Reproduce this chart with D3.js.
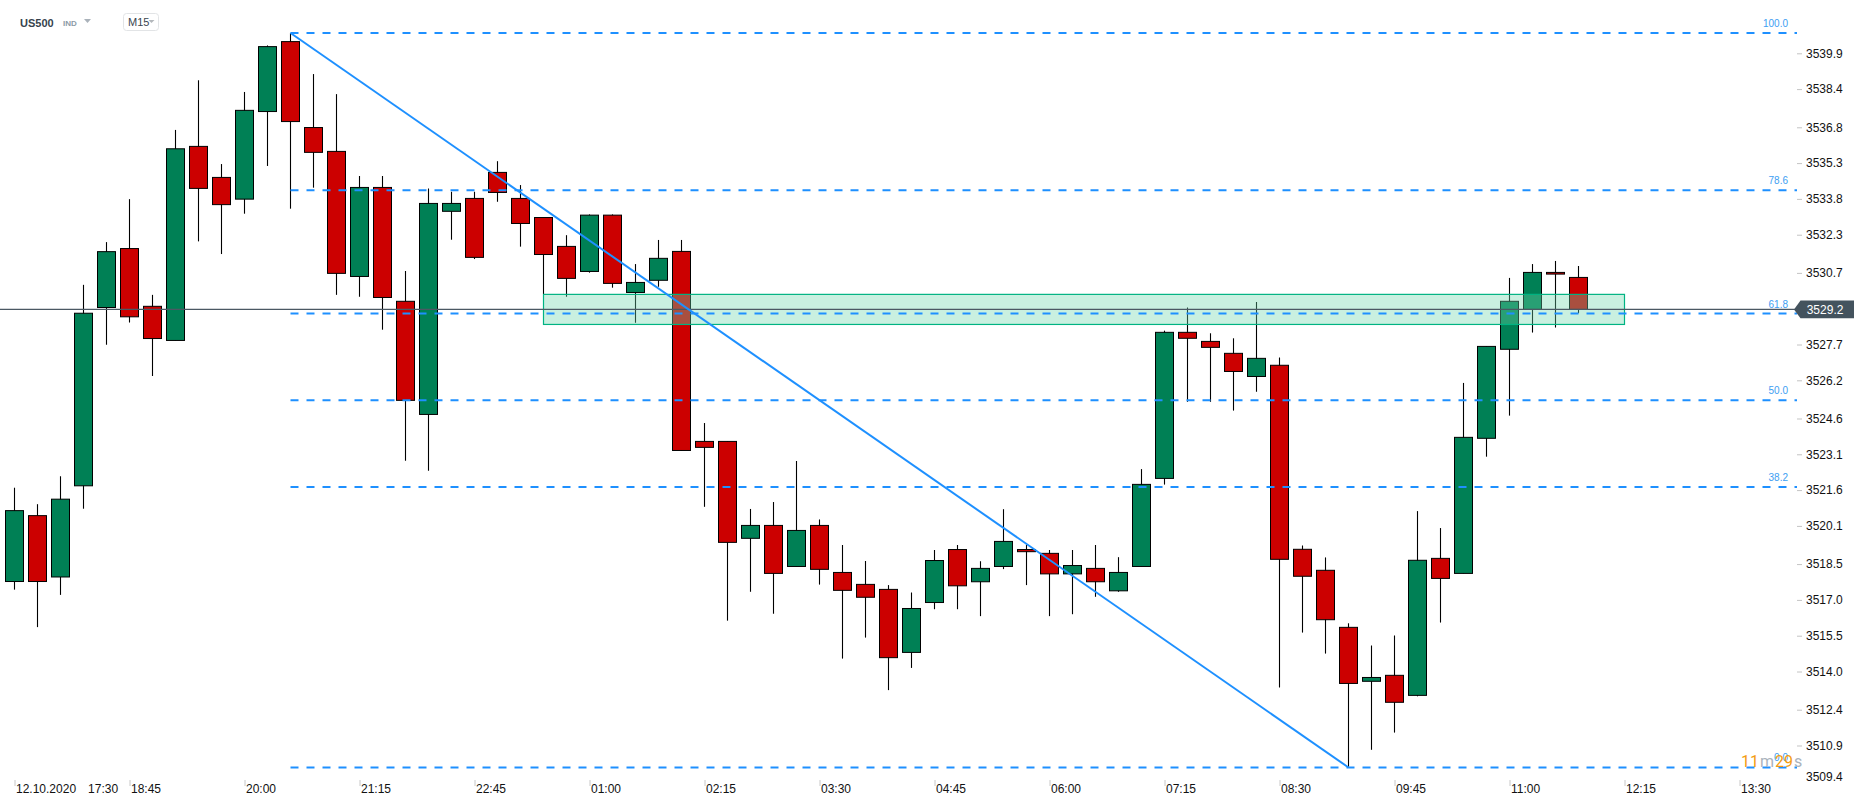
<!DOCTYPE html>
<html><head><meta charset="utf-8">
<script src="https://cdn.jsdelivr.net/npm/d3@7"></script>
<style>
html,body{margin:0;padding:0;background:#fff;}
svg{display:block;font-family:"Liberation Sans",Arial,sans-serif;}
</style></head><body>
<svg id="chart" width="1866" height="806"></svg>
<script>
// ---- data (US500, M15) ----
const opens  = [3517.77,3520.53,3517.96,3521.78,3529.25,3531.72,3529.30,3527.87,3536.00,3534.70,
                3533.79,3537.46,3540.39,3536.79,3535.79,3530.55,3534.28,3529.51,3524.77,3533.28,
                3533.82,3534.91,3533.82,3533.02,3531.81,3530.76,3533.12,3529.88,3530.39,3531.60,
                3523.64,3523.64,3519.58,3520.12,3518.40,3520.12,3518.15,3517.65,3517.44,3514.80,
                3516.89,3519.11,3517.76,3518.40,3519.11,3518.95,3518.09,3518.32,3517.38,3518.40,
                3522.09,3528.21,3527.83,3527.33,3526.36,3526.83,3519.12,3518.24,3515.85,3513.59,
                3513.84,3513.00,3518.74,3518.11,3523.77,3527.50,3529.17,3530.72,3530.51];
const highs  = [3521.70,3521.01,3522.18,3530.20,3531.99,3533.79,3529.78,3536.69,3538.77,3535.26,
                3538.28,3540.23,3540.75,3539.03,3538.19,3534.76,3534.76,3530.78,3534.24,3534.10,
                3534.10,3535.38,3534.38,3533.02,3532.28,3533.15,3533.15,3531.07,3532.08,3532.08,
                3524.41,3523.64,3520.81,3521.10,3522.82,3520.37,3519.30,3518.63,3517.62,3517.31,
                3519.09,3519.30,3518.62,3520.80,3519.30,3519.09,3519.09,3519.30,3518.79,3522.48,
                3528.28,3529.25,3528.17,3527.96,3529.48,3527.16,3519.28,3518.78,3516.02,3515.09,
                3515.51,3520.72,3520.01,3526.09,3527.62,3530.49,3531.07,3531.20,3530.99];
const lows   = [3517.43,3515.86,3517.21,3520.82,3527.69,3528.62,3526.38,3527.87,3532.02,3531.49,
                3533.18,3535.18,3533.39,3534.27,3529.78,3529.70,3528.32,3522.83,3522.41,3532.09,
                3531.28,3533.68,3531.80,3529.81,3529.70,3530.71,3530.08,3528.61,3530.12,3523.26,
                3520.90,3516.13,3517.34,3516.42,3518.40,3517.64,3514.54,3515.42,3513.22,3514.15,
                3516.61,3516.61,3516.32,3518.29,3517.62,3516.32,3516.40,3517.13,3517.34,3518.40,
                3521.83,3525.30,3525.30,3524.93,3525.72,3513.33,3515.63,3514.75,3509.98,3510.72,
                3511.44,3512.96,3516.05,3518.11,3523.00,3524.72,3528.20,3528.41,3529.01];
const closes = [3520.74,3517.77,3521.22,3529.01,3531.59,3528.86,3527.95,3535.90,3534.24,3533.56,
                3537.51,3540.18,3537.04,3535.75,3530.68,3534.28,3529.67,3525.36,3533.61,3533.61,
                3531.35,3534.07,3532.77,3531.47,3530.47,3533.12,3530.26,3530.30,3531.31,3523.26,
                3523.39,3519.41,3520.12,3518.11,3519.91,3518.28,3517.40,3517.11,3514.58,3516.64,
                3518.65,3517.59,3518.32,3519.45,3519.02,3518.09,3518.44,3517.76,3518.15,3521.84,
                3528.21,3527.96,3527.58,3526.57,3527.12,3518.70,3517.99,3516.17,3513.50,3513.75,
                3512.71,3518.66,3517.90,3523.81,3527.62,3529.51,3530.72,3530.65,3529.17];

const yTickLabels = ["3539.9","3538.4","3536.8","3535.3","3533.8","3532.3","3530.7","3529.2","3527.7",
                     "3526.2","3524.6","3523.1","3521.6","3520.1","3518.5","3517.0","3515.5","3514.0",
                     "3512.4","3510.9","3509.4"];
const xTickIdx    = [0,5,10,15,20,25,30,35,40,45,50,55,60,65,70,75];
const xTickLabels = ["12.10.2020","18:45","20:00","21:15","22:45","01:00","02:15","03:30","04:45",
                     "06:00","07:15","08:30","09:45","11:00","12:15","13:30"];
const firstTime = "17:30";

const fibLevels = [100, 78.6, 61.8, 50, 38.2, 0];
const fibLabels = ["100.0","78.6","61.8","50.0","38.2","0.0"];
const swingIdx = [12, 58];            // fib / trend line anchors (high, low)
const zoneIdx = [23, 70];
const zonePrice = [3528.54, 3529.80];
const lastPrice = 3529.17;
const lastLabel = "3529.2";
const timerParts = ["11","m","29","s"];

// ---- drawing ----
const svg = d3.select("#chart");
const plotRight = 1797;

const x = d3.scaleLinear().domain([0, 75]).range([14.5, 14.5 + 23 * 75]);
const y = d3.scaleLinear().domain([3509.4, 3539.9]).range([781.3, 53.3]);

const GREEN = "#008055", RED = "#cc0000";
const candles = d3.range(opens.length).map(i => ({i, o: opens[i], h: highs[i], l: lows[i], c: closes[i]}));

const cg = svg.append("g");
cg.selectAll("line.wick").data(candles).join("line")
  .attr("class","wick")
  .attr("x1", d => x(d.i)).attr("x2", d => x(d.i))
  .attr("y1", d => y(d.h)).attr("y2", d => y(d.l))
  .attr("stroke", "#000").attr("stroke-width", 1.1);
cg.selectAll("rect.body").data(candles).join("rect")
  .attr("class","body")
  .attr("x", d => x(d.i) - 9).attr("width", 18)
  .attr("y", d => y(Math.max(d.o, d.c)))
  .attr("height", d => Math.max(1, Math.abs(y(d.o) - y(d.c))))
  .attr("fill", d => d.c >= d.o ? GREEN : RED)
  .attr("stroke", "#000").attr("stroke-width", 1);

// zone
svg.append("rect")
  .attr("x", x(zoneIdx[0])).attr("width", x(zoneIdx[1]) - x(zoneIdx[0]))
  .attr("y", y(zonePrice[1])).attr("height", y(zonePrice[0]) - y(zonePrice[1]))
  .attr("fill", "rgba(108,214,172,0.37)")
  .attr("stroke", "#00b383").attr("stroke-width", 1.2);

// last price line
svg.append("line")
  .attr("x1", 0).attr("x2", 1795)
  .attr("y1", y(lastPrice)).attr("y2", y(lastPrice))
  .attr("stroke", "#4b5863").attr("stroke-width", 1.4);

// fib levels
const hi = highs[swingIdx[0]], lo = lows[swingIdx[1]];
const fg = svg.append("g");
fibLevels.forEach((lv, k) => {
  const p = lo + (hi - lo) * lv / 100;
  fg.append("line")
    .attr("x1", x(swingIdx[0])).attr("x2", plotRight)
    .attr("y1", y(p)).attr("y2", y(p))
    .attr("stroke", "#1e90ff").attr("stroke-width", 2)
    .attr("stroke-dasharray", "8,8");
  fg.append("text")
    .attr("x", 1788).attr("y", y(p) - 6)
    .attr("text-anchor", "end")
    .attr("font-size", 10).attr("fill", "#3d9ef2")
    .text(fibLabels[k]);
});

// trend line
svg.append("line")
  .attr("x1", x(swingIdx[0])).attr("y1", y(hi))
  .attr("x2", x(swingIdx[1])).attr("y2", y(lo))
  .attr("stroke", "#1e90ff").attr("stroke-width", 2);

// y axis
const yAxis = d3.axisRight(y)
  .tickValues(yTickLabels.map(Number))
  .tickFormat((d, i) => yTickLabels[i])
  .tickSize(5).tickPadding(4);
const yg = svg.append("g").attr("transform", `translate(${plotRight},0)`).call(yAxis);
yg.select(".domain").remove();
yg.selectAll(".tick line").attr("stroke", "#c4c4c4");
yg.selectAll(".tick text").attr("font-size", 12).attr("fill", "#111")
  .attr("font-family", '"Liberation Sans",Arial,sans-serif');
yg.selectAll(".tick").filter(d => d === 3509.4).each(function(){
  d3.select(this).select("line").remove();
  d3.select(this).select("text").attr("y", -4.5);
});

// last price label
const ly = y(lastPrice);
svg.append("path")
  .attr("d", `M1794,${ly} L1800.5,${ly-8.8} L1854,${ly-8.8} L1854,${ly+8.8} L1800.5,${ly+8.8} Z`)
  .attr("fill", "#44535e");
svg.append("text").attr("x", 1806.7).attr("y", ly + 4.5)
  .attr("font-size", 12).attr("fill", "#fff").text(lastLabel);

// x axis
const xAxis = d3.axisBottom(x).tickValues(xTickIdx)
  .tickFormat((d, i) => xTickLabels[i]).tickSize(6);
const xg = svg.append("g").attr("transform", "translate(0,780)").call(xAxis);
xg.select(".domain").remove();
xg.selectAll(".tick line").attr("stroke", "#c8c8c8");
xg.selectAll(".tick text")
  .attr("text-anchor", "start").attr("x", 1).attr("y", 13).attr("dy", null)
  .attr("font-size", 12).attr("fill", "#111")
  .attr("font-family", '"Liberation Sans",Arial,sans-serif');
xg.selectAll(".tick text").filter((d, i) => i === 0)
  .append("tspan").attr("dx", 12).text(firstTime);

// timer
const tt = svg.append("text").attr("x", 1741).attr("y", 767)
  .attr("font-size", 16).attr("font-family", "Roboto, sans-serif");
timerParts.forEach((t, i) => tt.append("tspan")
  .attr("dx", i === 0 ? 0 : 1)
  .attr("fill", i % 2 === 0 ? "#f39c12" : "#aab3bc").text(t));

// header
svg.append("text").attr("x", 20).attr("y", 27).attr("font-size", 11).attr("font-weight", "bold")
  .attr("fill", "#36424d").text("US500");
svg.append("text").attr("x", 63).attr("y", 26).attr("font-size", 8).attr("font-weight", "bold")
  .attr("fill", "#8c9aa6").text("IND");
svg.append("path").attr("d", "M84,19 L91,19 L87.5,23 Z").attr("fill", "#aab2ba");
svg.append("rect").attr("x", 123.5).attr("y", 13.5).attr("width", 35).attr("height", 17).attr("rx", 3)
  .attr("fill", "#fff").attr("stroke", "#e2e4e6");
svg.append("text").attr("x", 128).attr("y", 26).attr("font-size", 11)
  .attr("fill", "#3a4550").text("M15");
svg.append("path").attr("d", "M148.5,20 L154.5,20 L151.5,23 Z").attr("fill", "#b4b8bc");
</script>
</body></html>
